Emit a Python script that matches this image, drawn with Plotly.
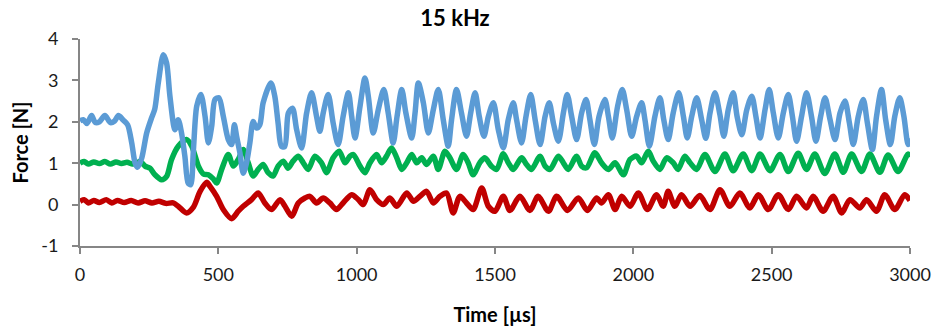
import plotly.graph_objects as go

# ---- data (time in µs, force in N) ----
blue_t = [0, 12, 25, 42, 55, 70, 90, 110, 125, 139, 155, 172, 187, 199, 208, 223, 241, 259, 270, 283,
          301, 313, 325, 343, 355, 367, 379, 391, 400, 410, 422, 437, 452, 464, 476, 488, 502, 518, 536, 548,
          558, 566, 578, 590, 602, 614, 626, 638, 650, 662, 690, 704, 716, 728, 740, 753, 768, 783, 801, 819,
          837, 855, 867, 879, 897, 915, 933, 951, 970, 982, 994, 1012, 1030, 1042, 1060, 1078, 1098, 1114, 1132, 1146,
          1163, 1178, 1199, 1211, 1223, 1241, 1259, 1277, 1295, 1313, 1331, 1343, 1361, 1379, 1397, 1412, 1428, 1443, 1460, 1476,
          1494, 1512, 1530, 1548, 1566, 1578, 1596, 1612, 1629, 1645, 1663, 1681, 1696, 1711, 1729, 1747, 1761, 1777, 1795, 1813,
          1829, 1843, 1859, 1876, 1897, 1910, 1924, 1943, 1960, 1976, 1994, 2012, 2030, 2042, 2058, 2078, 2096, 2110, 2126, 2144,
          2164, 2181, 2195, 2211, 2229, 2247, 2262, 2277, 2295, 2313, 2327, 2343, 2361, 2375, 2392, 2410, 2428, 2443, 2458, 2476,
          2491, 2506, 2524, 2542, 2560, 2575, 2590, 2608, 2626, 2644, 2660, 2677, 2693, 2711, 2729, 2747, 2765, 2781, 2795, 2813,
          2831, 2846, 2864, 2879, 2897, 2912, 2929, 2945, 2963, 2978, 2993, 3000]
blue_v = [2.02, 2.05, 1.96, 2.15, 1.98, 2.00, 2.15, 1.98, 2.02, 2.15, 2.05, 1.93, 1.49, 1.01, 0.90, 1.12, 1.73, 2.10, 2.30, 2.94,
          3.62, 3.42, 2.62, 1.81, 2.05, 1.73, 1.17, 0.52, 0.48, 1.33, 2.38, 2.66, 2.13, 1.49, 1.89, 2.54, 2.58, 2.13, 1.57, 1.45,
          1.93, 1.65, 1.25, 0.76, 1.01, 1.49, 2.01, 1.85, 1.93, 2.46, 2.94, 2.62, 1.97, 1.41, 1.40, 2.21, 2.33, 1.81, 1.37, 2.21,
          2.70, 2.13, 1.77, 2.21, 2.66, 1.97, 1.45, 2.13, 2.70, 2.13, 1.61, 2.37, 3.06, 2.62, 1.73, 2.29, 2.78, 2.21, 1.49, 2.13,
          2.78, 2.21, 1.61, 2.21, 2.94, 2.46, 1.73, 2.29, 2.78, 2.05, 1.41, 2.05, 2.78, 2.21, 1.65, 2.21, 2.70, 2.13, 1.65, 2.13,
          2.46, 1.81, 1.37, 2.05, 2.46, 2.05, 1.49, 2.13, 2.66, 2.05, 1.45, 2.13, 2.46, 1.97, 1.53, 2.21, 2.66, 2.13, 1.57, 2.21,
          2.54, 2.05, 1.45, 2.13, 2.54, 2.13, 1.61, 2.37, 2.78, 2.29, 1.65, 2.13, 2.46, 2.05, 1.41, 2.13, 2.58, 2.05, 1.57, 2.21,
          2.70, 2.13, 1.61, 2.13, 2.58, 2.05, 1.60, 2.21, 2.70, 2.17, 1.65, 2.29, 2.70, 2.13, 1.69, 2.29, 2.62, 2.13, 1.61, 2.29,
          2.78, 2.21, 1.61, 2.21, 2.66, 2.13, 1.53, 2.13, 2.70, 2.13, 1.53, 2.13, 2.58, 2.05, 1.57, 2.21, 2.50, 1.97, 1.45, 2.13,
          2.54, 1.97, 1.33, 2.13, 2.78, 2.05, 1.45, 2.13, 2.58, 2.13, 1.45, 1.60]

green_t = [0, 15, 30, 50, 70, 90, 110, 130, 150, 170, 190, 205, 217, 235, 253, 271, 295, 313, 331, 355,
           385, 404, 428, 446, 464, 482, 494, 512, 536, 554, 572, 590, 608, 626, 644, 662, 680, 698, 716, 735,
           752, 770, 789, 807, 825, 849, 873, 891, 915, 937, 958, 976, 988, 1012, 1030, 1048, 1072, 1090, 1108, 1126,
           1145, 1163, 1181, 1199, 1217, 1235, 1253, 1277, 1295, 1319, 1337, 1361, 1385, 1403, 1421, 1445, 1463, 1487, 1506, 1530,
           1548, 1566, 1596, 1614, 1632, 1663, 1681, 1699, 1729, 1747, 1765, 1795, 1813, 1831, 1861, 1885, 1910, 1934, 1964, 1988,
           2012, 2030, 2054, 2072, 2096, 2120, 2144, 2162, 2186, 2205, 2229, 2259, 2295, 2331, 2361, 2397, 2428, 2458, 2494, 2530,
           2560, 2596, 2626, 2656, 2692, 2728, 2759, 2789, 2825, 2855, 2891, 2921, 2957, 2993, 3000]
green_v = [1.00, 1.04, 0.98, 1.03, 0.99, 1.04, 0.98, 1.03, 0.99, 1.02, 0.98, 1.00, 1.05, 0.93, 0.88, 0.72, 0.60, 0.68, 1.09, 1.41,
           1.57, 1.41, 0.93, 0.74, 0.72, 0.62, 0.52, 0.85, 1.21, 0.93, 1.09, 1.33, 1.01, 0.69, 0.85, 0.97, 0.77, 0.69, 0.93, 1.05,
           0.88, 1.05, 1.17, 1.01, 0.85, 1.17, 1.01, 0.77, 1.13, 1.29, 1.01, 1.17, 1.21, 0.93, 0.77, 1.01, 1.21, 1.01, 1.17, 1.37,
           1.13, 0.85, 1.01, 1.21, 1.01, 1.13, 0.97, 1.17, 0.85, 1.29, 1.13, 0.85, 1.21, 1.01, 0.72, 1.01, 1.13, 0.93, 0.85, 1.23,
           1.01, 0.85, 1.13, 0.97, 0.85, 1.17, 0.93, 0.85, 1.17, 1.01, 0.85, 1.17, 0.93, 0.89, 1.25, 1.01, 0.85, 1.01, 0.72, 1.09,
           1.17, 1.01, 1.29, 1.05, 0.85, 1.13, 1.01, 0.85, 1.17, 1.01, 0.85, 1.21, 0.80, 1.22, 0.82, 1.22, 0.82, 1.22, 0.82, 1.21,
           0.80, 1.24, 0.85, 1.22, 0.75, 1.22, 0.78, 1.22, 0.80, 1.22, 0.78, 1.20, 0.80, 1.22, 1.15]

red_t = [0, 15, 30, 50, 70, 95, 115, 135, 160, 185, 210, 235, 260, 285, 310, 337, 355, 385, 410, 434,
         458, 470, 494, 518, 548, 572, 590, 620, 644, 668, 692, 723, 741, 765, 789, 813, 831, 855, 879, 903,
         927, 951, 982, 1006, 1024, 1048, 1072, 1096, 1120, 1145, 1181, 1205, 1229, 1253, 1277, 1301, 1325, 1349, 1373, 1397,
         1421, 1452, 1476, 1500, 1530, 1554, 1590, 1626, 1656, 1693, 1723, 1762, 1801, 1834, 1867, 1885, 1910, 1934, 1958, 1988,
         2018, 2051, 2084, 2108, 2126, 2150, 2174, 2205, 2240, 2277, 2313, 2349, 2385, 2421, 2452, 2488, 2524, 2560, 2590, 2626,
         2650, 2686, 2722, 2753, 2783, 2819, 2843, 2879, 2909, 2945, 2981, 3000]
red_v = [0.08, 0.12, 0.04, 0.10, 0.05, 0.12, 0.04, 0.10, 0.05, 0.10, 0.04, 0.09, 0.04, 0.08, 0.03, 0.04, -0.04, -0.20, -0.06, 0.32,
         0.54, 0.44, 0.20, -0.12, -0.34, -0.16, -0.04, 0.12, 0.28, 0.04, -0.12, 0.12, -0.04, -0.28, 0.04, 0.16, 0.20, 0.04, 0.16, 0.04,
         -0.12, 0.04, 0.24, 0.12, 0.00, 0.36, 0.12, 0.00, 0.16, -0.04, 0.28, 0.08, 0.20, 0.32, 0.04, 0.20, 0.28, -0.20, 0.20, 0.04,
         -0.12, 0.40, -0.04, -0.16, 0.20, -0.14, 0.20, -0.14, 0.20, -0.16, 0.20, -0.14, 0.16, -0.14, 0.16, 0.04, 0.24, -0.12, 0.20, -0.04,
         0.28, -0.12, 0.24, -0.04, 0.32, -0.04, 0.24, -0.04, 0.22, -0.12, 0.36, -0.04, 0.28, -0.08, 0.24, -0.12, 0.24, -0.12, 0.20, -0.08,
         0.20, -0.16, 0.20, -0.20, 0.12, -0.08, 0.12, -0.16, 0.24, -0.12, 0.24, 0.10]

x_ticks = [0, 500, 1000, 1500, 2000, 2500, 3000]
y_ticks = [-1, 0, 1, 2, 3, 4]
y_tick_text = ["-1", "0", "1", "2", "3", "4"]

FONT = "Lato, 'Open Sans', sans-serif"
AXIS_GREY = "#868686"

fig = go.Figure()
for t, v, c in [(red_t, red_v, "#C00000"), (green_t, green_v, "#00B050"), (blue_t, blue_v, "#5B9BD5")]:
    fig.add_trace(go.Scatter(x=t, y=v, mode="lines",
                             line=dict(color=c, width=5.5, shape="spline", smoothing=0.8),
                             showlegend=False, hoverinfo="skip"))

common_axis = dict(showgrid=False, zeroline=False, showline=True, linecolor=AXIS_GREY, linewidth=2,
                   ticks="outside", ticklen=6, tickwidth=2, tickcolor=AXIS_GREY, automargin=False,
                   tickfont=dict(family=FONT, size=18, color="#1a1a1a"))

fig.update_layout(
    width=935, height=330,
    margin=dict(l=80, r=25, t=39, b=84),
    paper_bgcolor="white", plot_bgcolor="white",
    title=dict(text="<b>15 kHz</b>", x=455 / 935, xref="container", xanchor="center",
               y=1 - 18 / 330, yref="container", yanchor="middle",
               font=dict(family=FONT, size=22, color="#000000")),
    xaxis=dict(range=[0, 3000], tickvals=x_ticks, ticklabelstandoff=5,
               title=dict(text="<b>Time [µs]</b>", font=dict(family=FONT, size=20, color="#000000"), standoff=24),
               **common_axis),
    yaxis=dict(range=[-1, 4], tickvals=y_ticks, ticktext=y_tick_text, ticklabelstandoff=10,
               title=dict(text="<b>Force [N]</b>", font=dict(family=FONT, size=20, color="#000000"), standoff=7),
               **common_axis),
    xaxis2=dict(overlaying="x", anchor="y", side="bottom", range=[0, 3000], tickvals=x_ticks,
                ticks="inside", ticklen=7, tickwidth=2, tickcolor=AXIS_GREY, showticklabels=False,
                showgrid=False, zeroline=False, showline=False, automargin=False),
    yaxis2=dict(overlaying="y", anchor="x", side="left", range=[-1, 4], tickvals=y_ticks,
                ticks="inside", ticklen=7, tickwidth=2, tickcolor=AXIS_GREY, showticklabels=False,
                showgrid=False, zeroline=False, showline=False, automargin=False),
)

fig.write_html("out.html")
